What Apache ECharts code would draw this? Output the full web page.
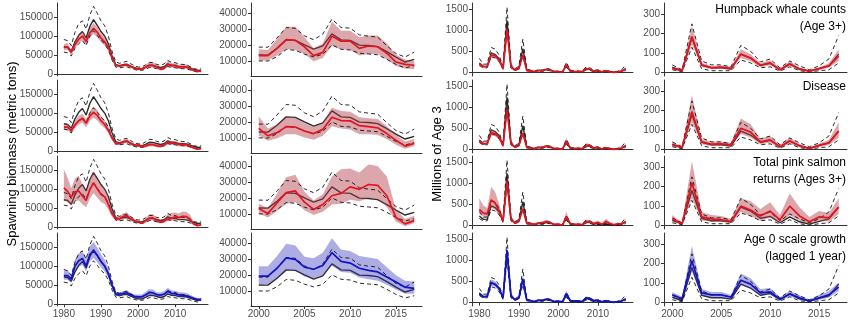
<!DOCTYPE html>
<html>
<head>
<meta charset="utf-8">
<script src="https://cdn.jsdelivr.net/npm/echarts@6/dist/echarts.min.js"></script>
<style>
  html, body { margin: 0; padding: 0; background: #ffffff; }
  #chart { width: 850px; height: 327px; }
</style>
</head>
<body>
<div id="chart"></div>
<script>
// Years of the time series
const years = [1980, 1981, 1982, 1983, 1984, 1985, 1986, 1987, 1988, 1989,
               1990, 1991, 1992, 1993, 1994, 1995, 1996, 1997, 1998, 1999,
               2000, 2001, 2002, 2003, 2004, 2005, 2006, 2007, 2008, 2009,
               2010, 2011, 2012, 2013, 2014, 2015, 2016, 2017];

// Tick labels
const yearTicksFull = [1980, 1990, 2000, 2010];
const yearTicksRecent = [2000, 2005, 2010, 2015];
const biomassTicksFull = [0, 50000, 100000, 150000];
const biomassTicksRecent = [10000, 20000, 30000, 40000];
const recruitTicksFull = [0, 500, 1000, 1500];
const recruitTicksRecent = [0, 100, 200, 300];

// Facet titles (one per model row)
const facetHumpback = ['Humpback whale counts', '(Age 3+)'];
const facetDisease = ['Disease'];
const facetPink = ['Total pink salmon', 'returns (Ages 3+)'];
const facetGrowth = ['Age 0 scale growth', '(lagged 1 year)'];

// Spawning biomass (metric tons): base model median and interval
const biomassBaseMid = [72000, 70000, 60000, 85000, 102000, 112000, 95000, 125000, 143000, 128000,
  112000, 100000, 80000, 48000, 25000, 22000, 25000, 26000, 21000, 17000,
  13900, 13800, 18100, 23300, 23000, 20200, 17500, 19600, 27000, 23300,
  23000, 20000, 19800, 19100, 16000, 12500, 9500, 11200];
const biomassBaseLo = [58000, 56000, 48000, 68000, 80000, 88000, 75000, 100000, 114000, 102000,
  89000, 80000, 63000, 37000, 18500, 16500, 18500, 19500, 15500, 12500,
  10200, 10100, 12800, 17300, 16800, 14400, 12700, 14300, 20200, 17400,
  17000, 15000, 14500, 14000, 11200, 8000, 5800, 7200];
const biomassBaseHi = [91000, 88000, 75000, 110000, 133000, 140000, 118000, 155000, 178000, 160000,
  140000, 127000, 100000, 60000, 32000, 28500, 31500, 34000, 27500, 22000,
  18800, 18700, 24500, 31000, 30500, 25800, 23400, 26900, 36200, 31000,
  30600, 26400, 25600, 25000, 19700, 14800, 12600, 15700];

// Spawning biomass with humpback whale counts
const biomassHumpMid = [70000, 72000, 57000, 78000, 92000, 100000, 86000, 108000, 120000, 110000,
  95000, 85000, 70000, 42000, 23000, 21000, 23500, 24500, 20000, 16000,
  13500, 13500, 18000, 23500, 23000, 19000, 13500, 15500, 25500, 22500,
  22500, 18000, 19500, 19000, 15000, 9500, 8000, 7500];
const biomassHumpLo = [62000, 64000, 51000, 69000, 82000, 89000, 76000, 96000, 106000, 97000,
  84000, 75000, 62000, 37000, 19500, 18000, 20000, 21000, 17000, 13500,
  10500, 10500, 13500, 17500, 17000, 14500, 10000, 12000, 19500, 17500,
  17000, 13500, 14500, 14500, 11000, 7000, 5500, 5000];
const biomassHumpHi = [79000, 81000, 64000, 88000, 103000, 112000, 97000, 121000, 134000, 123000,
  107000, 96000, 79000, 48000, 27000, 24500, 27500, 28500, 23500, 19000,
  17500, 17000, 24000, 31500, 31500, 25000, 18000, 21000, 34500, 29000,
  29000, 25000, 26000, 26000, 21000, 14000, 11000, 10000];

// Spawning biomass with disease
const biomassDiseaseMid = [63000, 63000, 54000, 69000, 80000, 86000, 73000, 92000, 102000, 94000,
  80000, 70000, 55000, 34000, 20000, 20000, 24000, 27000, 20000, 15000,
  16100, 11500, 13500, 17200, 17000, 14500, 12900, 15500, 23100, 21000,
  20800, 17800, 17200, 16500, 12900, 8700, 5100, 6800];
const biomassDiseaseLo = [55000, 55000, 47000, 60000, 70000, 75000, 63000, 80000, 88000, 81000,
  69000, 60000, 47000, 29000, 16500, 16500, 19500, 22000, 16000, 12000,
  11500, 8500, 10000, 12500, 12500, 10500, 9000, 11500, 17500, 16000,
  15500, 12500, 12500, 12000, 9500, 6000, 3500, 5000];
const biomassDiseaseHi = [72000, 72000, 62000, 79000, 92000, 98000, 84000, 105000, 117000, 108000,
  92000, 81000, 64000, 40000, 24000, 24000, 29000, 33000, 25000, 19000,
  23500, 16000, 18500, 23000, 23000, 19500, 17000, 20000, 29000, 27000,
  26500, 23000, 22500, 22000, 17500, 12000, 8000, 9500];

// Spawning biomass with total pink salmon returns
const biomassPinkMid = [103000, 94000, 79000, 93000, 95000, 82000, 70000, 98000, 117000, 101000,
  86000, 80000, 60000, 35000, 22000, 22000, 28000, 30500, 22000, 17000,
  13500, 10500, 17000, 23500, 24500, 17500, 13000, 16000, 21500, 23000,
  27000, 25500, 28500, 28000, 21500, 8000, 4000, 6000];
const biomassPinkLo = [70000, 66000, 56000, 68000, 70000, 60000, 52000, 75000, 89000, 78000,
  66000, 61000, 46000, 27000, 16500, 16500, 21000, 23000, 16500, 12500,
  10500, 8000, 12000, 16500, 17500, 12500, 9500, 11500, 16000, 16500,
  19000, 18000, 20000, 19500, 14500, 5500, 2500, 4500];
const biomassPinkHi = [152000, 130000, 102000, 128000, 135000, 112000, 92000, 126000, 147000, 127000,
  110000, 102000, 79000, 46000, 28500, 29000, 36500, 39500, 29000, 22000,
  16500, 13500, 23000, 33000, 34500, 24000, 18500, 22500, 33500, 38000,
  38500, 36000, 41000, 40000, 33500, 13000, 7000, 9000];

// Spawning biomass with age-0 scale growth (lagged 1 year)
const biomassGrowthMid = [75000, 75000, 66000, 100000, 114000, 120000, 100000, 130000, 140000, 128000,
  112000, 100000, 80000, 50000, 27000, 26000, 28500, 30000, 24500, 20500,
  19400, 19400, 24300, 30800, 29800, 25000, 23700, 26000, 34000, 28600,
  27500, 24300, 23000, 22000, 18900, 15700, 12500, 11800];
const biomassGrowthLo = [64000, 64000, 56000, 86000, 98000, 103000, 86000, 112000, 121000, 110000,
  96000, 86000, 68000, 42000, 22500, 21500, 23500, 25000, 20000, 16500,
  14500, 14500, 18000, 23500, 23000, 19000, 18000, 20000, 26000, 22000,
  21500, 18500, 17500, 16500, 14000, 11000, 8500, 8500];
const biomassGrowthHi = [89000, 89000, 78000, 117000, 133000, 140000, 117000, 152000, 163000, 149000,
  131000, 117000, 94000, 59000, 32500, 31500, 34500, 36500, 30000, 25500,
  25500, 25500, 32000, 39500, 38500, 31500, 30500, 34000, 43000, 36000,
  35000, 32000, 31000, 30000, 25000, 20000, 16500, 16000];

// Age-3 recruits (millions): base model median and interval
const recruitBaseMid = [230, 150, 155, 470, 430, 330, 105, 1250, 150, 70,
  110, 570, 60, 45, 25, 55, 45, 80, 60, 22,
  28, 10, 180, 38, 25, 25, 18, 95, 75, 38,
  48, 15, 45, 20, 8, 22, 35, 95];
const recruitBaseLo = [170, 110, 115, 380, 350, 260, 80, 1000, 115, 50,
  85, 420, 45, 32, 18, 40, 33, 60, 44, 15,
  15, 5, 130, 20, 10, 10, 10, 65, 50, 25,
  30, 8, 30, 10, 3, 10, 15, 50];
const recruitBaseHi = [340, 200, 205, 600, 560, 420, 140, 1560, 195, 95,
  150, 800, 80, 60, 35, 75, 62, 105, 80, 30,
  40, 15, 250, 60, 40, 40, 30, 140, 110, 55,
  70, 25, 60, 35, 15, 35, 70, 190];

// Recruits with humpback whale counts
const recruitHumpMid = [210, 140, 145, 420, 400, 300, 95, 1020, 130, 55,
  95, 420, 50, 40, 22, 52, 45, 80, 55, 22,
  22, 10, 185, 40, 25, 28, 22, 95, 75, 38,
  50, 15, 45, 18, 8, 20, 35, 85];
const recruitHumpLo = [180, 120, 125, 370, 350, 260, 80, 900, 110, 45,
  80, 370, 42, 33, 18, 44, 38, 68, 46, 18,
  16, 6, 145, 30, 18, 20, 15, 75, 58, 28,
  38, 10, 34, 12, 5, 14, 25, 60];
const recruitHumpHi = [245, 165, 170, 480, 455, 345, 112, 1150, 152, 66,
  112, 480, 60, 48, 27, 62, 53, 94, 65, 27,
  30, 14, 240, 52, 34, 38, 30, 120, 95, 50,
  64, 22, 58, 26, 12, 28, 48, 120];

// Recruits with disease
const recruitDiseaseMid = [200, 135, 140, 400, 380, 290, 95, 950, 130, 55,
  95, 390, 50, 40, 24, 55, 50, 90, 60, 24,
  25, 12, 195, 40, 28, 30, 25, 110, 90, 40,
  50, 15, 45, 20, 5, 22, 35, 95];
const recruitDiseaseLo = [165, 110, 115, 340, 320, 245, 78, 820, 108, 45,
  78, 330, 40, 32, 19, 44, 40, 72, 48, 18,
  15, 6, 140, 28, 18, 20, 16, 80, 62, 28,
  35, 9, 32, 12, 2, 14, 24, 60];
const recruitDiseaseHi = [240, 165, 170, 470, 445, 340, 115, 1100, 155, 66,
  115, 460, 62, 50, 30, 68, 62, 110, 74, 30,
  38, 18, 280, 55, 40, 42, 36, 160, 130, 56,
  70, 24, 62, 30, 10, 32, 50, 140];

// Recruits with total pink salmon returns
const recruitPinkMid = [390, 300, 280, 610, 540, 360, 110, 1050, 150, 60,
  100, 400, 50, 50, 30, 60, 70, 100, 70, 25,
  35, 10, 220, 45, 35, 30, 22, 100, 80, 50,
  75, 30, 100, 50, 20, 45, 40, 95];
const recruitPinkLo = [270, 210, 200, 430, 380, 255, 80, 850, 110, 42,
  72, 320, 36, 36, 20, 42, 48, 70, 48, 16,
  20, 5, 140, 25, 20, 20, 12, 70, 50, 25,
  40, 15, 55, 25, 8, 25, 20, 60];
const recruitPinkHi = [650, 480, 420, 920, 800, 520, 160, 1250, 200, 85,
  140, 490, 70, 72, 45, 88, 105, 145, 100, 38,
  55, 15, 330, 70, 55, 50, 35, 140, 125, 85,
  120, 55, 165, 95, 45, 75, 65, 140];

// Recruits with age-0 scale growth (lagged 1 year)
const recruitGrowthMid = [210, 135, 150, 480, 440, 340, 110, 1250, 160, 70,
  110, 560, 60, 45, 25, 60, 55, 85, 60, 25,
  40, 20, 215, 50, 40, 40, 28, 115, 95, 50,
  55, 18, 45, 25, 8, 25, 40, 80];
const recruitGrowthLo = [175, 110, 125, 410, 375, 290, 92, 1100, 135, 58,
  92, 480, 50, 37, 20, 50, 45, 72, 50, 20,
  28, 12, 160, 35, 28, 28, 20, 90, 72, 35,
  40, 10, 32, 15, 4, 15, 25, 60];
const recruitGrowthHi = [250, 160, 180, 560, 510, 395, 130, 1380, 185, 82,
  130, 640, 72, 54, 30, 70, 65, 100, 70, 30,
  55, 30, 290, 70, 55, 55, 40, 150, 125, 70,
  75, 28, 60, 38, 15, 40, 60, 105];

// ---- chart assembly ----
const RED = '#e3141f', RED_BAND = 'rgba(176,58,72,0.45)';
const BLUE = '#1313c6', BLUE_BAND = 'rgba(51,51,187,0.40)';
const TICK_TEXT = '#4d4d4d', AXIS = '#333333';
const FONT = '"Liberation Sans", Arial, sans-serif';

const base = {
  biomass: { mid: biomassBaseMid, lo: biomassBaseLo, hi: biomassBaseHi },
  recruit: { mid: recruitBaseMid, lo: recruitBaseLo, hi: recruitBaseHi }
};
const models = [
  { title: facetHumpback, color: RED, band: RED_BAND,
    biomass: { mid: biomassHumpMid, lo: biomassHumpLo, hi: biomassHumpHi },
    recruit: { mid: recruitHumpMid, lo: recruitHumpLo, hi: recruitHumpHi } },
  { title: facetDisease, color: RED, band: RED_BAND,
    biomass: { mid: biomassDiseaseMid, lo: biomassDiseaseLo, hi: biomassDiseaseHi },
    recruit: { mid: recruitDiseaseMid, lo: recruitDiseaseLo, hi: recruitDiseaseHi } },
  { title: facetPink, color: RED, band: RED_BAND,
    biomass: { mid: biomassPinkMid, lo: biomassPinkLo, hi: biomassPinkHi },
    recruit: { mid: recruitPinkMid, lo: recruitPinkLo, hi: recruitPinkHi } },
  { title: facetGrowth, color: BLUE, band: BLUE_BAND,
    biomass: { mid: biomassGrowthMid, lo: biomassGrowthLo, hi: biomassGrowthHi },
    recruit: { mid: recruitGrowthMid, lo: recruitGrowthLo, hi: recruitGrowthHi } }
];

const columns = [
  { key: 'biomass', left: 57, width: 151, xMin: 1978.15, xMax: 2018.85, from: 1980,
    xTicks: yearTicksFull, yTicks: biomassTicksFull, yMin: -4700, yMax: 186700 },
  { key: 'biomass', left: 251, width: 171, xMin: 1999.15, xMax: 2017.85, from: 2000,
    xTicks: yearTicksRecent, yTicks: biomassTicksRecent, yMin: 800, yMax: 46250 },
  { key: 'recruit', left: 472, width: 161, xMin: 1978.15, xMax: 2018.85, from: 1980,
    xTicks: yearTicksFull, yTicks: recruitTicksFull, yMin: -80, yMax: 1660 },
  { key: 'recruit', left: 664, width: 183, xMin: 1999.15, xMax: 2017.85, from: 2000,
    xTicks: yearTicksRecent, yTicks: recruitTicksRecent, yMin: -17, yMax: 357 }
];
const rowTops = [3, 80, 156, 233];
const rowHeight = 73;

const grid = [], xAxis = [], yAxis = [], series = [], graphic = [];

function points(xs, ys) { return xs.map((x, i) => [x, ys[i]]); }

// Filled ribbon between the lower and upper interval edges, drawn as one polygon
function ribbon(g, xs, lo, hi, fill) {
  return {
    type: 'custom', xAxisIndex: g, yAxisIndex: g, silent: true, z: 3,
    data: xs.map((x, i) => [x, lo[i], hi[i]]),
    encode: { x: 0, y: [1, 2] },
    renderItem(params, api) {
      if (params.dataIndex !== 0) return null;
      const upper = xs.map((x, i) => api.coord([x, hi[i]]));
      const lower = xs.map((x, i) => api.coord([x, lo[i]])).reverse();
      return { type: 'polygon', shape: { points: upper.concat(lower) },
               style: { fill: fill, stroke: null } };
    }
  };
}

models.forEach((model, r) => {
  columns.forEach((col, c) => {
    const g = grid.length;
    const bottomRow = r === models.length - 1;
    grid.push({ left: col.left, top: rowTops[r], width: col.width, height: rowHeight });
    xAxis.push({
      type: 'value', gridIndex: g, min: col.xMin, max: col.xMax,
      axisLine: { show: true, lineStyle: { color: AXIS, width: 1 } },
      axisTick: { show: bottomRow, length: 3, customValues: col.xTicks, lineStyle: { color: AXIS } },
      axisLabel: { show: bottomRow, customValues: col.xTicks, color: TICK_TEXT,
                   fontSize: 10, fontFamily: FONT, margin: 3, formatter: v => String(v) },
      splitLine: { show: false }
    });
    yAxis.push({
      type: 'value', gridIndex: g, min: col.yMin, max: col.yMax,
      axisLine: { show: true, lineStyle: { color: AXIS, width: 1 } },
      axisTick: { show: true, length: 3, customValues: col.yTicks, lineStyle: { color: AXIS } },
      axisLabel: { show: true, customValues: col.yTicks, color: TICK_TEXT,
                   fontSize: 10, fontFamily: FONT, margin: 4, formatter: v => String(v) },
      splitLine: { show: false }
    });

    const start = years.indexOf(col.from);
    const xs = years.slice(start);
    const b = base[col.key], m = model[col.key];
    const cut = arr => arr.slice(start);
    const common = { xAxisIndex: g, yAxisIndex: g, symbol: 'none', silent: true };

    // base model median
    series.push(Object.assign({ type: 'line', data: points(xs, cut(b.mid)),
      lineStyle: { color: '#2a2a2a', width: 1.4 }, z: 2 }, common));
    // interval of the covariate model
    series.push(ribbon(g, xs, cut(m.lo), cut(m.hi), model.band));
    // base model interval (dashed)
    [b.lo, b.hi].forEach(edge => {
      series.push(Object.assign({ type: 'line', data: points(xs, cut(edge)),
        lineStyle: { color: '#111111', width: 0.9, type: [4, 3] }, z: 4 }, common));
    });
    // covariate model median
    series.push(Object.assign({ type: 'line', data: points(xs, cut(m.mid)),
      lineStyle: { color: model.color, width: 1.7 }, z: 5 }, common));
  });

  // facet title, right-aligned inside the last column
  model.title.forEach((line, k) => {
    graphic.push({ type: 'text', x: 846, y: rowTops[r] + 7 + k * 17, z: 10,
      style: { text: line, fill: '#000', font: '12px ' + FONT,
               textAlign: 'right', textVerticalAlign: 'middle' } });
  });
});

graphic.push({ type: 'text', x: 12, y: 154, rotation: Math.PI / 2,
  style: { text: 'Spawning biomass (metric tons)', fill: '#000', font: '13px ' + FONT,
           textAlign: 'center', textVerticalAlign: 'middle' } });
graphic.push({ type: 'text', x: 437, y: 154, rotation: Math.PI / 2,
  style: { text: 'Millions of Age 3', fill: '#000', font: '13px ' + FONT,
           textAlign: 'center', textVerticalAlign: 'middle' } });

const chart = echarts.init(document.getElementById('chart'), null, { renderer: 'canvas' });
chart.setOption({
  animation: false,
  backgroundColor: '#ffffff',
  grid, xAxis, yAxis, series, graphic
});
</script>
</body>
</html>
